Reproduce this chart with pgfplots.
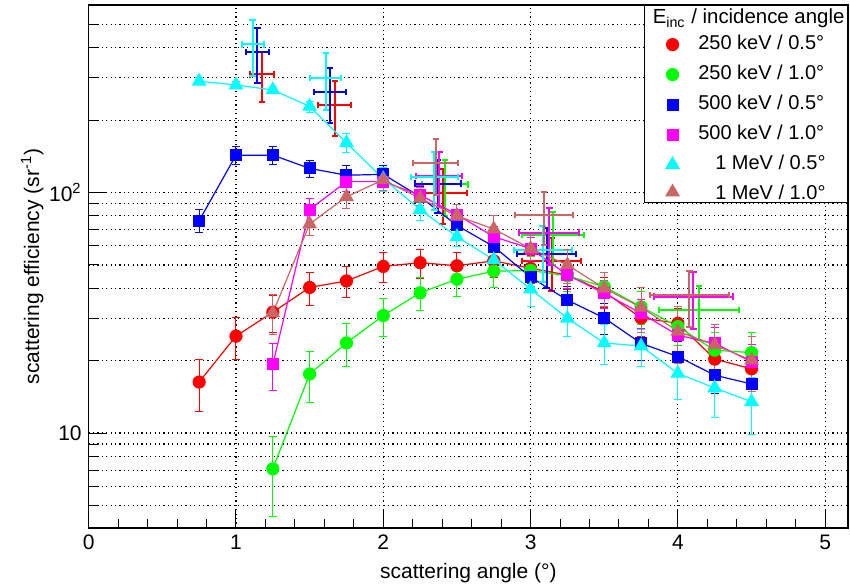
\documentclass[border=0pt]{standalone}
\usepackage{fontspec}
\setmainfont{Liberation Sans}
\usepackage{pgfplots}
\pgfplotsset{compat=1.18}
\usepackage{pgfplotstable}
\definecolor{cred}{RGB}{255,0,0}
\definecolor{cgreen}{RGB}{0,255,0}
\definecolor{cblue}{RGB}{0,0,255}
\definecolor{cmag}{RGB}{255,0,255}
\definecolor{ccyan}{RGB}{0,255,255}
\definecolor{cbrown}{RGB}{204,102,102}

\pgfplotstableread{
x y ey
0.75 16.3 4.0
1.00 25.3 5.0
1.25 31.8 5.5
1.50 40.3 6.4
1.75 42.9 6.4
2.00 49.3 7.0
2.25 51.1 7.0
2.50 49.6 6.8
2.75 52.0 7.5
3.00 48.4 6.5
3.25 45.4 6.0
3.50 38.7 5.5
3.75 30.1 4.8
4.00 28.6 4.5
4.25 20.3 3.5
4.50 18.5 3.2
}\redA
\pgfplotstableread{
x y ey
1.25 7.1 2.6
1.50 17.6 4.2
1.75 23.7 4.8
2.00 30.8 5.5
2.25 38.3 6.0
2.50 43.6 6.7
2.75 47.1 7.0
3.00 47.4 6.8
3.25 45.0 6.4
3.50 40.6 6.0
3.75 33.5 5.2
4.00 27.7 4.6
4.25 22.1 4.2
4.50 21.6 4.6
}\greenA
\pgfplotstableread{
x y ey
0.75 76.4 8.5
1.00 143 12
1.25 143 12
1.50 126 10
1.75 118 11
2.00 119 11
2.25 96 10
2.50 73 8
2.75 59.6 7
3.00 44.5 6
3.25 35.7 5
3.50 30.1 4.5
3.75 23.6 3.5
4.00 20.8 3.2
4.25 17.4 2.8
4.50 16.0 2.5
}\blueA
\pgfplotstableread{
x y ey
1.25 19.3 4.3
1.50 85 9
1.75 111 10
2.00 111 10
2.25 97.6 9
2.50 81 8
2.75 65.5 7
3.00 58.5 6.5
3.25 45.4 5.5
3.50 38.1 5
3.75 31.5 4.3
4.00 25.5 4
4.25 23.6 4
4.50 19.8 3.5
}\magA
\pgfplotstableread{
x y ey
0.75 290 10
1.00 280 10
1.25 267 10
1.50 228 12
1.75 161 15
2.00 114 13
2.25 85 8.5
2.50 65.5 6
2.75 52.5 6
3.00 39.7 6
3.25 30.0 4.7
3.50 23.7 4.5
3.75 23.0 4
4.00 17.7 3.9
4.25 15.4 3.8
4.50 13.5 3.6
}\cyanA
\pgfplotstableread{
x y ey
1.25 31.6 6
1.50 74 8
1.75 96 10
2.00 113 11
2.25 94.5 10
2.50 80 9
2.75 70.5 10
3.00 58.5 8
3.25 50 8
3.50 40 6.5
3.75 33.3 7
4.00 26.5 7
4.25 23.2 5.2
4.50 20.1 5.2
}\brownA

\pgfplotstableread{
x y ex ey
1.177 310 0.08 73
1.672 231 0.112 60
2.403 99.8 0.163 26
3.143 51.9 0.2 13
}\redX
\pgfplotstableread{
x y ex ey
2.419 108 0.158 28
3.154 66.6 0.211 16.6
4.143 32.5 0.27 8.2
}\greenX
\pgfplotstableread{
x y ex ey
1.145 385 0.08 100
1.638 262 0.109 67
2.369 109 0.156 27
3.109 55.5 0.2 15.5
}\blueX
\pgfplotstableread{
x y ex ey
2.381 117 0.156 30
3.127 68.2 0.204 18
4.105 36.9 0.27 9.7
}\magX
\pgfplotstableread{
x y ex ey
1.113 413 0.075 107
1.609 300 0.107 79
2.347 116 0.158 31
3.082 57.6 0.196 15
}\cyanX
\pgfplotstableread{
x y ex ey
2.356 132.7 0.151 35
3.093 80.6 0.198 20
4.078 37.5 0.27 9.8
}\brownX

\pgfplotsset{
  dataser/.style={color=#1, line width=0.6pt, mark options={solid, fill=#1, draw=#1},
    error bars/y dir=both, error bars/y explicit,
    error bars/error bar style={line width=0.5pt, #1},
    error bars/error mark options={rotate=90, line width=0.5pt, mark size=2pt, #1}},
  crossser/.style={color=#1, forget plot, draw=none, mark=none,
    error bars/x dir=both, error bars/x explicit, error bars/y dir=both, error bars/y explicit,
    error bars/error bar style={draw=#1, line width=1pt},
    error bars/error mark options={rotate=90, draw=#1, line width=1pt, mark size=1.6pt}},
}

\begin{document}
\begin{tikzpicture}
\begin{axis}[
  at={(0,0)}, anchor=south west,
  scale only axis, width=379.65pt, height=261.5pt,
  xmin=0, xmax=5.155,
  ymode=log, ymin=4.03, ymax=602,
  xtick={0,1,2,3,4,5}, xticklabels={0,1,2,3,4,5},
  minor x tick num=4,
  ytick={10,100}, yticklabels={10,10\textsuperscript{2}},
  minor ytick={4,5,6,7,8,9,20,30,40,50,60,70,80,90,200,300,400,500,600},
  tick pos=left, tick align=inside,
  major tick length=9pt, minor tick length=4.5pt,
  tick style={black, line width=0.5pt},
  xmajorgrids, ymajorgrids, yminorgrids,
  grid style={black, line width=0.6pt, dash pattern=on 0.6pt off 1.6pt},
  axis line style={line width=0.8pt},
  xlabel={scattering angle (°)},
  ylabel={scattering efficiency (sr\textsuperscript{-1})},
  ylabel shift=-4pt,
  label style={font=\fontsize{10.5}{12}\selectfont},
  tick label style={font=\fontsize{10.5}{12}\selectfont},
  legend image code/.code={\path[draw=none,fill=none] (0pt,-3pt) rectangle (25.35pt,3pt); \draw[#1, only marks] plot coordinates {(14pt,0pt)};},
  legend style={at={(1,1)}, anchor=north east, draw=black, line width=0.6pt, fill=white,
    font=\fontsize{10}{12}\selectfont, cells={anchor=west}, inner xsep=0pt, inner ysep=0pt,
    nodes={inner sep=1.5pt, text height=7.5pt, text depth=2.5pt}, row sep=2pt, column sep=0pt},
]
\addlegendimage{empty legend}
\addlegendentry[text depth=0.5pt]{\hspace*{-22.75pt}{\fontsize{10.2}{12}\selectfont E\textsubscript{inc} / incidence angle}}

\addplot[mark=*, mark size=3pt, dataser=cred] table[x=x,y=y,y error=ey]{\redA};
\addlegendentry{250 keV / 0.5°}
\addplot[crossser=cred] table[x=x,y=y,x error=ex,y error=ey]{\redX};

\addplot[mark=*, mark size=3pt, dataser=cgreen] table[x=x,y=y,y error=ey]{\greenA};
\addlegendentry{250 keV / 1.0°}
\addplot[crossser=cgreen] table[x=x,y=y,x error=ex,y error=ey]{\greenX};

\addplot[mark=square*, mark size=2.7pt, dataser=cblue] table[x=x,y=y,y error=ey]{\blueA};
\addlegendentry{500 keV / 0.5°}
\addplot[crossser=cblue] table[x=x,y=y,x error=ex,y error=ey]{\blueX};

\addplot[mark=square*, mark size=2.7pt, dataser=cmag] table[x=x,y=y,y error=ey]{\magA};
\addlegendentry{500 keV / 1.0°}
\addplot[crossser=cmag] table[x=x,y=y,x error=ex,y error=ey]{\magX};

\addplot[mark=triangle*, mark size=3.7pt, dataser=ccyan] table[x=x,y=y,y error=ey]{\cyanA};
\addlegendentry{\hspace{8.5pt}1 MeV / 0.5°}
\addplot[crossser=ccyan] table[x=x,y=y,x error=ex,y error=ey]{\cyanX};

\addplot[mark=triangle*, mark size=3.7pt, dataser=cbrown] table[x=x,y=y,y error=ey]{\brownA};
\addlegendentry[text depth=0pt]{\hspace{8.5pt}1 MeV / 1.0°}
\addplot[crossser=cbrown] table[x=x,y=y,x error=ex,y error=ey]{\brownX};
\end{axis}
\pgfresetboundingbox
\path (-44.35pt,-28.5pt) rectangle (380.65pt,264pt);
\end{tikzpicture}
\end{document}
